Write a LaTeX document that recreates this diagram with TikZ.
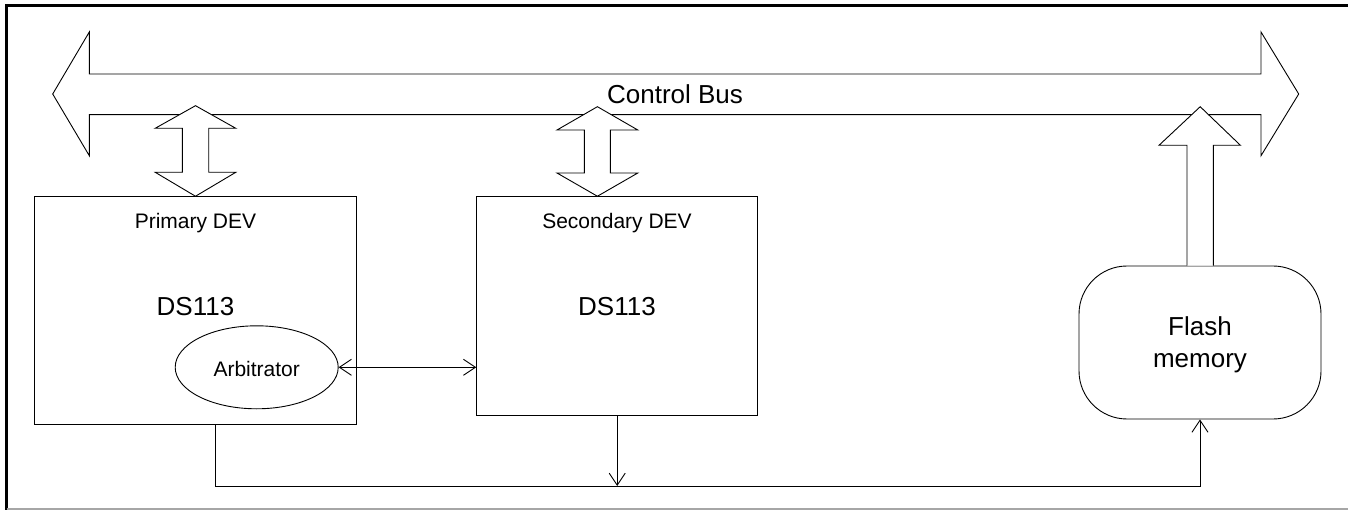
\documentclass[tikz,border=0pt]{standalone}
\usepackage{fontspec}
\setmainfont{Liberation Sans}
\usetikzlibrary{arrows.meta,shapes.geometric}
\begin{document}
\begin{tikzpicture}[x=1pt,y=-1pt,line width=0.9pt,
  devbox/.style={draw,rectangle,inner sep=0pt},
  flashbox/.style={draw,rectangle,rounded corners=48pt,inner sep=0pt,
    minimum width=242pt,minimum height=153pt},
  arbshape/.style={draw,ellipse,inner sep=0pt,minimum width=163pt,minimum height=83pt},
  blockarrow/.style={draw,fill=white,line join=miter},
  lbl/.style={inner sep=0pt,anchor=base},
  barb/.tip={Straight Barb[length=12pt,width=16pt]}
]
\useasboundingbox (0,0) rectangle (1348,510);

% outer frame
\draw[line width=2.6pt] (6.5,510) -- (6.5,5.3) -- (1348,5.3);
\draw[gray!70,line width=1.2pt] (6.5,509) -- (1348,509);

% control bus (wide double-headed block arrow)
\draw[blockarrow] (52.7,94) -- (89.3,32) -- (89.3,74) -- (1261,74) -- (1261,32)
  -- (1298.7,94) -- (1261,155.7) -- (1261,114.7) -- (89.3,114.7) -- (89.3,155.7) -- cycle;
\node[lbl,font=\fontsize{26}{30}\selectfont] (buslbl) at (675,104) {Control Bus};

% devices
\node[devbox,minimum width=321.5pt,minimum height=227.6pt] (pri) at (195.5,310.5) {};
\node[devbox,minimum width=281pt,minimum height=218.6pt] (sec) at (617.2,306) {};
\node[lbl,font=\fontsize{21}{24}\selectfont] (pri-title) at (195.5,229) {Primary DEV};
\node[lbl,font=\fontsize{26}{30}\selectfont] (pri-chip) at (195.5,316) {DS113};
\node[lbl,font=\fontsize{21}{24}\selectfont] (sec-title) at (617,229) {Secondary DEV};
\node[lbl,font=\fontsize{26}{30}\selectfont] (sec-chip) at (617,316) {DS113};

\node[arbshape] (arb) at (256.7,367.3) {};
\node[lbl,font=\fontsize{21}{24}\selectfont] (arb-lbl) at (256.7,376) {Arbitrator};

% flash memory
\node[flashbox] (flash) at (1200,342.5) {};
\node[lbl,font=\fontsize{26}{30}\selectfont] (flash-l1) at (1200,335.7) {Flash};
\node[lbl,font=\fontsize{26}{30}\selectfont] (flash-l2) at (1200,367.3) {memory};

% bus links (two-way block arrows to the devices)
\draw[blockarrow] (195.5,105.7) -- (235.8,128.3) -- (208.7,128.3) -- (208.7,172.3)
  -- (235.8,172.3) -- (pri.north) -- (155.2,172.3) -- (182.3,172.3) -- (182.3,128.3)
  -- (155.2,128.3) -- cycle;
\draw[blockarrow] (597.4,106.7) -- (637.8,130) -- (610.4,130) -- (610.4,173)
  -- (637.8,173) -- (sec.north -| 597.4,0) -- (557,173) -- (584.4,173) -- (584.4,130)
  -- (557,130) -- cycle;
% flash to bus (one-way block arrow)
\draw[blockarrow] (flash.north -| 1187,0) -- (1187,145.3) -- (1159,145.3) -- (1200.2,106.7)
  -- (1240.4,145.3) -- (1213.3,145.3) -- (flash.north -| 1213.3,0);

% arbitration link
\draw[barb-barb] (arb.east) -- (sec.west |- arb.east);

% shared lines below the devices
\coordinate (pdrop) at (215.6,486);
\draw[-barb] (pri.south -| pdrop) -- (pdrop) -| (flash.south);
\draw[-barb] (sec.south) -- (sec.south |- pdrop);
\end{tikzpicture}
\end{document}
